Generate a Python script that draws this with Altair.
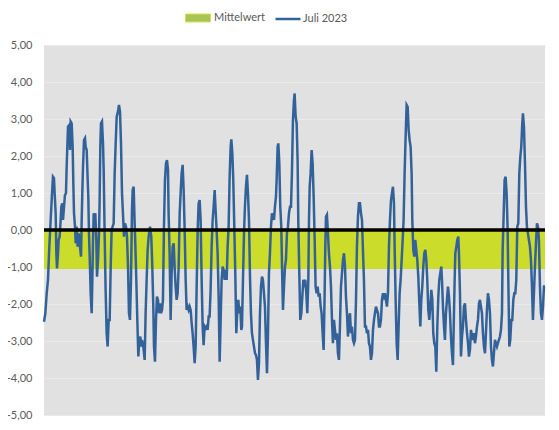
import altair as alt
import pandas as pd

# ---- data (hour of July 2023, value) ----
stunde_1 = [0, 2.0, 4.0, 5.9, 7.9, 9.9, 11.9, 13.3, 14.8, 15.8, 17.3, 18.3, 19.3, 20.8, 21.7, 23.2, 24.7, 25.7, 27.2, 28.2,
            29.7, 31.1, 32.6, 33.6, 34.6, 35.6, 37.6, 38.6, 39.5, 41.0, 42.5, 43.5, 44.5, 46.0, 47.0, 48.4, 49.9, 51.4, 52.9, 54.9,
            55.9, 56.8, 57.8, 59.3, 60.8, 61.8, 63.3, 64.8, 65.7, 66.7, 68.2, 69.2, 70.7, 71.7, 72.7, 73.7, 75.1, 76.1, 77.6, 78.6,
            80.1, 81.6, 82.5, 83.5, 84.5, 86.0, 87.5, 88.5, 90.0, 91.4, 92.9, 94.4, 95.9, 97.4, 98.9, 100.3, 101.8, 103.3, 104.8, 106.3,
            107.8, 109.7, 111.2, 112.7, 114.2, 115.7, 117.1, 118.6, 120.1, 121.6, 123.1, 124.6, 126.0, 127.5, 129.0, 130.5, 131.5, 133.0, 134.0, 135.4,
            136.9, 138.4, 139.9, 141.4, 142.9, 144.3]
wert_1 = [-2.48, -2.25, -1.71, -1.35, -0.45, 0.27, 0.99, 1.44, 1.40, 0.99, 0.45, -0.63, -1.04, -0.63, -0.27, -0.18, 0.27, 0.63, 0.72, 0.27,
          0.63, 0.95, 0.99, 1.71, 2.25, 2.79, 2.84, 2.16, 2.93, 2.88, 2.25, 1.26, 0.45, 0.09, -0.36, 0.09, -0.45, -0.09, -0.36, -0.72,
          0.27, 0.99, 1.67, 2.43, 2.48, 2.25, 2.16, 1.35, 0.90, -0.09, -0.99, -1.71, -2.25, -1.35, -0.27, 0.45, 0.36, 0.45, -0.27, -1.26,
          -0.81, -0.09, 0.81, 2.25, 2.88, 2.93, 2.34, 1.62, -0.18, -1.62, -2.79, -3.15, -2.43, -2.43, -0.99, 0.0, 0.09, 0.18, 1.53, 2.34,
          3.06, 3.20, 3.38, 3.20, 2.34, 0.99, 0.45, -0.18, 0.18, 0.09, -0.18, -0.99, -2.25, -2.43, -1.35, 0.54, 1.08, 1.17, 0.45, -0.36,
          -1.35, -2.43, -3.42, -2.97, -2.88, -3.15]

stunde_2 = [145.3, 147.3, 149.3, 150.7, 152.2, 153.7, 155.2, 157.2, 159.1, 160.6, 162.1, 163.1, 164.6, 166.1, 167.5, 169.0, 170.5, 172.0, 173.5, 175.0,
            176.4, 177.9, 179.4, 180.9, 182.4, 183.9, 184.8, 186.3, 187.8, 189.3, 190.8, 192.3, 193.7, 195.2, 196.7, 198.2, 199.7, 201.2, 202.6, 204.1,
            205.6, 207.1, 208.6, 210.1, 211.5, 213.0, 214.5, 216.0, 217.5, 219.0, 220.4, 221.9, 223.4, 224.9, 226.4, 227.9, 229.3, 230.8, 232.3, 233.8,
            235.3, 236.7, 238.2, 239.7, 241.2, 242.7, 244.2, 245.6, 247.1, 248.6, 250.1, 251.6, 253.1, 254.5, 256.0, 257.5, 259.0, 260.5, 262.0, 263.4,
            264.9, 266.4, 267.9, 269.4, 270.9, 272.3, 273.8, 275.3, 276.8, 277.8, 279.3, 280.7, 282.2, 283.7, 285.2, 286.7, 288.2, 289.6, 291.1, 292.6]
wert_2 = [-2.97, -3.15, -3.51, -2.25, -1.35, -0.54, -0.18, 0.09, -0.18, -0.99, -2.07, -3.15, -3.56, -2.43, -1.80, -1.89, -2.25, -1.98, -2.25, -2.16,
          -1.89, 0.09, 1.35, 1.80, 1.89, 1.62, 0.45, -0.63, -2.43, -1.17, -0.45, -0.36, -0.99, -1.53, -1.89, -1.71, -0.99, 0.45, 0.99, 1.53,
          1.76, 1.08, 0.0, -1.35, -2.16, -2.07, -2.16, -2.07, -2.16, -2.52, -2.79, -3.15, -3.60, -3.15, -1.53, 0.0, 0.72, 0.81, 0.27, -1.35,
          -2.61, -3.11, -2.61, -2.66, -2.61, -2.70, -2.34, -2.34, -1.62, -0.45, 0.27, 0.63, 1.08, 0.54, 0.0, -0.63, -1.80, -3.56, -2.43, -1.35,
          -0.99, -1.08, -1.35, -1.08, -1.35, -0.45, 0.09, 1.44, 2.25, 2.45, 2.07, 1.35, 0.09, -1.17, -2.79, -2.16, -1.89, -2.25, -2.07, -2.70]

stunde_3 = [293.6, 295.1, 296.6, 298.0, 299.5, 301.0, 302.5, 304.0, 305.5, 306.9, 308.4, 309.9, 311.4, 312.9, 314.4, 315.8, 317.3, 318.8, 320.3, 321.8,
            323.3, 324.7, 326.2, 327.7, 329.2, 330.7, 332.2, 333.6, 335.1, 336.6, 338.1, 339.6, 341.1, 342.5, 344.0, 345.0, 346.5, 347.5, 349.0, 350.4,
            351.9, 353.4, 354.4, 355.9, 357.4, 358.8, 360.3, 361.8, 363.3, 364.8, 366.3, 367.7, 369.2, 370.7, 371.7, 373.2, 374.7, 376.1, 377.1, 378.6,
            380.1, 381.6, 383.1, 384.6, 386.0, 387.5, 389.0, 390.5, 392.0, 393.0, 394.0, 395.4, 396.9, 398.4, 399.9, 401.4, 402.8, 404.3, 405.8, 407.3,
            408.8, 410.3, 411.7, 413.2, 414.7, 416.2, 417.2, 418.2, 419.6, 421.1, 422.6, 424.1, 425.6, 427.1, 428.5, 430.0, 431.5, 433.0, 434.5, 435.9,
            437.4, 438.9, 440.4]
wert_3 = [-2.61, -1.35, -0.09, 0.63, 1.17, 1.49, 0.99, 0.27, -1.26, -2.25, -2.79, -2.97, -3.15, -3.33, -3.38, -3.51, -4.05, -3.60, -2.25, -1.53,
          -1.26, -1.35, -1.71, -2.07, -3.06, -3.87, -2.79, -1.17, -0.63, 0.09, 0.45, 0.36, 0.27, 0.63, 0.90, 1.35, 2.25, 2.34, 1.80, 0.63,
          0.09, -1.35, -2.16, -1.53, -0.99, -0.81, -0.09, 0.09, 0.45, 0.63, 0.63, 1.53, 2.97, 3.51, 3.69, 3.06, 2.88, 1.89, 0.27, -1.17,
          -2.43, -2.25, -1.80, -1.35, -1.44, -1.35, -1.71, -2.25, -1.35, 0.27, 1.17, 1.53, 2.16, 1.80, 0.90, -0.27, -1.53, -1.71, -1.53, -1.80,
          -1.71, -2.07, -2.25, -2.79, -3.24, -1.71, -0.45, 0.36, 0.41, -0.09, -0.63, -0.99, -1.53, -2.43, -3.06, -2.43, -2.70, -2.97, -2.79, -3.33,
          -3.51, -2.61, -1.53]

stunde_4 = [441.9, 443.4, 444.9, 446.4, 447.8, 449.3, 450.8, 452.3, 453.8, 455.2, 456.7, 458.2, 459.7, 461.2, 462.7, 464.1, 465.6, 467.1, 468.6, 470.1,
            471.6, 473.0, 474.5, 476.0, 477.5, 479.0, 480.5, 481.9, 483.4, 484.9, 486.4, 487.9, 489.4, 490.8, 492.3, 493.8, 495.3, 496.8, 498.2, 499.7,
            501.2, 502.7, 504.2, 505.7, 507.1, 508.6, 510.1, 511.6, 513.1, 514.6, 516.0, 517.5, 519.0, 520.0, 521.5, 523.0, 524.5, 525.9, 527.4, 528.9,
            530.4, 531.9, 533.3, 534.8, 536.3, 537.8, 539.3, 540.8, 542.2, 543.7, 545.2, 546.2, 547.7, 549.2, 550.6, 552.1, 553.6, 555.1, 556.6, 558.1,
            559.5, 561.0, 562.5, 564.0, 565.5, 567.0, 568.4, 569.9, 571.4, 572.9, 574.4, 575.9, 577.3, 578.8, 580.3, 581.8, 583.3, 584.8, 586.2, 587.7,
            589.2]
wert_4 = [-1.17, -0.81, -0.63, -0.99, -1.80, -2.25, -2.88, -2.43, -2.25, -2.79, -2.61, -2.97, -3.06, -2.97, -1.89, -0.45, 0.36, 0.72, 0.72, 0.45,
          0.27, -0.54, -1.35, -2.61, -2.61, -2.79, -2.70, -3.06, -3.15, -3.51, -3.33, -2.70, -2.43, -2.25, -2.07, -2.16, -2.25, -2.61, -2.61, -2.43,
          -1.89, -1.71, -1.80, -1.71, -1.89, -2.07, -1.71, -0.45, 0.27, 0.81, 0.99, 1.17, 0.72, -0.45, -1.89, -3.06, -3.51, -2.61, -1.71, -1.35,
          -0.81, -0.27, 0.27, 1.53, 2.52, 3.38, 3.33, 2.70, 2.43, 2.25, 1.53, 0.27, -0.54, -0.72, -0.27, -0.54, -0.81, -1.26, -1.98, -2.61,
          -1.89, -1.53, -0.99, -0.63, -0.54, -0.81, -1.35, -2.16, -2.43, -2.07, -1.62, -1.89, -2.79, -3.06, -3.15, -3.83, -2.61, -1.80, -1.35, -1.17,
          -0.99]

stunde_5 = [590.2, 591.7, 593.2, 594.6, 596.1, 597.6, 599.1, 600.6, 602.1, 603.5, 605.0, 606.5, 608.0, 609.0, 610.0, 611.5, 612.9, 614.4, 615.4, 616.9,
            618.4, 619.9, 621.3, 622.8, 624.3, 625.8, 627.3, 628.8, 630.2, 631.7, 633.2, 634.7, 636.2, 637.7, 639.1, 640.6, 642.1, 643.6, 645.1, 646.5,
            648.0, 649.5, 651.0, 652.5, 654.0, 655.4, 656.9, 658.4, 659.9, 661.4, 662.9, 664.3, 665.8, 667.3, 668.8, 670.3, 671.8, 673.2, 674.7, 676.2,
            677.7, 679.2, 680.2, 681.6, 683.1, 684.6, 686.1, 687.6, 688.6, 690.1, 691.5, 693.0, 694.5, 696.0, 697.5, 699.0, 700.4, 701.9, 703.4, 704.9,
            706.4, 707.8, 709.3, 710.3, 711.8, 713.3, 714.8, 716.2, 717.7, 719.2, 720.7, 722.2, 723.7, 725.1, 726.6, 728.1, 729.6, 731.1, 732.6, 734.0,
            735.5, 737.0, 738.5, 740.0, 741.5, 743.0]
wert_5 = [-1.35, -2.07, -2.61, -2.97, -2.25, -1.89, -1.53, -1.80, -2.25, -2.88, -3.33, -3.65, -2.25, -1.35, -0.63, -0.45, -0.27, -0.18, -0.63, -1.71,
          -3.42, -2.88, -2.61, -2.07, -1.98, -2.43, -2.79, -3.06, -3.42, -3.24, -2.70, -2.88, -2.97, -2.79, -3.06, -2.88, -2.61, -2.43, -1.98, -1.89,
          -2.07, -2.25, -2.79, -3.15, -3.33, -2.79, -2.16, -1.71, -1.89, -2.25, -3.15, -3.51, -3.69, -3.33, -2.97, -3.06, -3.15, -3.06, -2.97, -2.88,
          -2.70, -2.25, -0.54, 0.36, 1.35, 1.44, 0.99, 0.0, -1.35, -3.15, -2.97, -2.43, -2.43, -1.89, -1.71, -1.71, -1.35, 0.09, 0.18, 1.53,
          1.98, 2.25, 2.88, 3.15, 2.79, 1.80, 0.63, 0.09, -0.09, -0.27, -0.45, -0.81, -1.53, -2.43, -1.71, -0.99, -0.36, 0.18, 0.09, -0.27,
          -1.53, -2.25, -2.43, -2.07, -1.53, -1.53]

mittelwert = -1.05
monat_start = 0
monat_ende = 743
y_werte = [-5, -4, -3, -2, -1, 0, 1, 2, 3, 4, 5]
serien = ["Mittelwert", "Juli 2023"]

stunde = stunde_1 + stunde_2 + stunde_3 + stunde_4 + stunde_5
wert = wert_1 + wert_2 + wert_3 + wert_4 + wert_5
for s, w in [(stunde_1, wert_1), (stunde_2, wert_2), (stunde_3, wert_3), (stunde_4, wert_4), (stunde_5, wert_5)]:
    if len(s) != len(w):
        raise ValueError(f"length mismatch {len(s)} vs {len(w)}")

line_df = pd.DataFrame({"Stunde": stunde, "Wert": wert, "Serie": serien[1]})
band_df = pd.DataFrame({"Stunde": [monat_start, monat_ende], "Wert": [mittelwert, mittelwert],
                        "Null": [0, 0], "Serie": serien[0]})

FONT = "Lato"
TXT = "#595959"
label_expr = "replace(replace(format(datum.value, '.2f'), '.', ','), '\u2212', '-')"

x_scale = alt.Scale(domain=[monat_start, monat_ende], nice=False, zero=False)
y_scale = alt.Scale(domain=[-5, 5], nice=False)
y_axis = alt.Axis(values=y_werte, labelExpr=label_expr, title=None, domain=False, ticks=False,
                  grid=True, gridColor="#EAEAEA", gridWidth=1, labelPadding=12,
                  labelOverlap=False, labelFont=FONT, labelFontSize=11, labelColor=TXT)

band = alt.Chart(band_df).mark_area(opacity=1).encode(
    x=alt.X("Stunde:Q", scale=x_scale, axis=None),
    y=alt.Y("Wert:Q", scale=y_scale, axis=y_axis),
    y2="Null:Q",
    fill=alt.Fill("Serie:N", scale=alt.Scale(domain=[serien[0]], range=["#A8C454"]),
                  legend=alt.Legend(title=None, orient="none", legendX=141, legendY=-40, padding=0,
                                    symbolType="M-1,-0.32H1V0.32H-1Z", symbolSize=625,
                                    symbolStrokeColor="#D6E24A", symbolStrokeWidth=1, labelOffset=3,
                                    labelFont=FONT, labelFontSize=11, labelColor=TXT)),
)

band_fill = alt.Chart(band_df).mark_area(opacity=1, color="#CCDC2A").encode(
    x=alt.X("Stunde:Q", scale=x_scale, axis=None),
    y=alt.Y("Wert:Q", scale=y_scale, axis=y_axis),
    y2="Null:Q",
)

null_linie = alt.Chart(band_df).mark_rule(color="black", strokeWidth=3).encode(
    y=alt.datum(0, scale=y_scale, axis=y_axis)
)

linie = alt.Chart(line_df).mark_line(strokeWidth=2.5).encode(
    x=alt.X("Stunde:Q", scale=x_scale, axis=None),
    y=alt.Y("Wert:Q", scale=y_scale, axis=y_axis),
    stroke=alt.Stroke("Serie:N", scale=alt.Scale(domain=[serien[1]], range=["#33629A"]),
                      legend=alt.Legend(title=None, orient="none", legendX=230, legendY=-40, padding=0,
                                        symbolType="stroke", symbolSize=625, symbolStrokeWidth=2.5,
                                        labelOffset=1, labelFont=FONT, labelFontSize=11, labelColor=TXT)),
)

# 'band' supplies the legend entry (drawn underneath), 'band_fill' the visible band colour
chart = alt.layer(band, band_fill, linie, null_linie).resolve_scale(fill="independent", stroke="independent").properties(
    width=501, height=370,
    autosize=alt.AutoSizeParams(type="none"),
    padding={"left": 36, "top": 37, "right": 6, "bottom": 7},
).configure(
    background="white",
    view=alt.ViewConfig(fill="#E1E1E1", stroke=None),
    axis=alt.AxisConfig(labelOverlap=False),
)

chart.save("out.html", embed_options={"renderer": "svg", "actions": False})
